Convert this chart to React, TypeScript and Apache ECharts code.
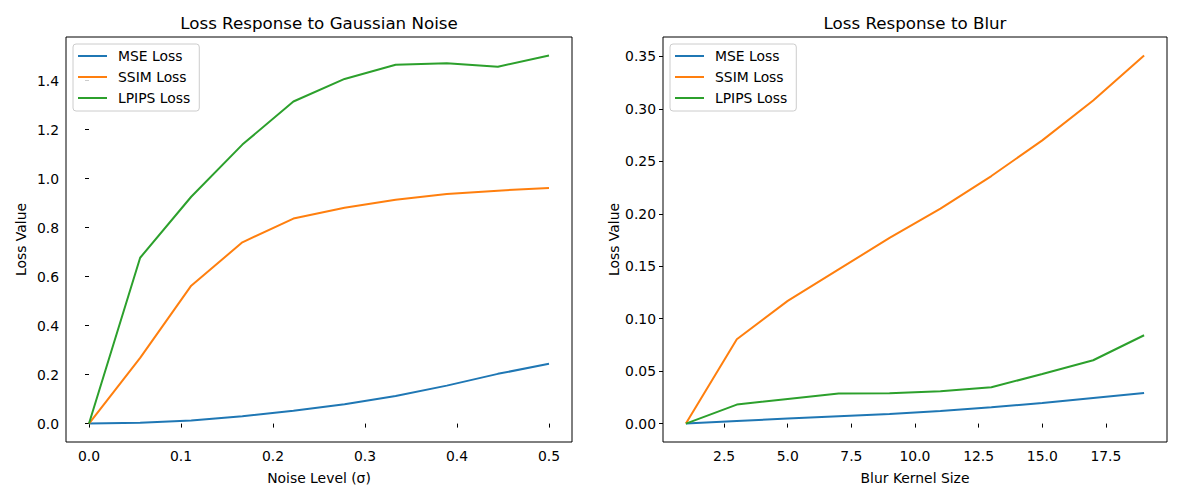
import React, { useEffect, useRef } from "react";
import * as echarts from "echarts";

// Noise sweep (left panel)
const noiseLevels = [0, 0.0556, 0.1111, 0.1667, 0.2222, 0.2778, 0.3333, 0.3889, 0.4444, 0.5];
const noiseMse = [0, 0.003, 0.013, 0.03, 0.052, 0.079, 0.113, 0.155, 0.203, 0.244];
const noiseSsim = [0, 0.268, 0.563, 0.74, 0.837, 0.881, 0.914, 0.937, 0.951, 0.962];
const noiseLpips = [0, 0.677, 0.926, 1.139, 1.315, 1.407, 1.465, 1.471, 1.457, 1.503];

// Blur sweep (right panel)
const kernelSizes = [1, 3, 5, 7, 9, 11, 13, 15, 17, 19];
const blurMse = [0, 0.0025, 0.0048, 0.007, 0.0092, 0.012, 0.0156, 0.0197, 0.0245, 0.0292];
const blurSsim = [0, 0.0804, 0.117, 0.147, 0.177, 0.205, 0.236, 0.27, 0.308, 0.351];
const blurLpips = [0, 0.0181, 0.0235, 0.0286, 0.0289, 0.0308, 0.0346, 0.0473, 0.0604, 0.0842];

// Tick labels
const noiseTicks = [0, 0.1, 0.2, 0.3, 0.4, 0.5];
const noiseYTicks = [0, 0.2, 0.4, 0.6, 0.8, 1.0, 1.2, 1.4];
const kernelTicks = [2.5, 5, 7.5, 10, 12.5, 15, 17.5];
const blurYTicks = [0, 0.05, 0.1, 0.15, 0.2, 0.25, 0.3, 0.35];

const seriesNames = ["MSE Loss", "SSIM Loss", "LPIPS Loss"];
const colors = ["#1f77b4", "#ff7f0e", "#2ca02c"];

const FONT = "DejaVu Sans";
const TICK_FS = 13.9;

const pairs = (xs: number[], ys: number[]) => xs.map((x, i) => [x, ys[i]]);

function xAxisCfg(gridIndex: number, min: number, max: number, ticks: number[], digits: number, name: string) {
  return {
    type: "value",
    gridIndex,
    min,
    max,
    name,
    nameLocation: "middle",
    nameGap: 29,
    nameTextStyle: { fontFamily: FONT, fontSize: TICK_FS, color: "#000" },
    axisLine: { show: false },
    splitLine: { show: false },
    axisTick: { show: true, inside: false, length: 4, lineStyle: { color: "#000", width: 1 }, customValues: ticks },
    axisLabel: {
      show: true,
      margin: 7,
      fontFamily: FONT,
      fontSize: TICK_FS,
      color: "#000",
      customValues: ticks,
      formatter: (v: number) => v.toFixed(digits),
    },
  };
}

function yAxisCfg(gridIndex: number, min: number, max: number, ticks: number[], digits: number) {
  return {
    type: "value",
    gridIndex,
    min,
    max,
    name: "Loss Value",
    nameLocation: "middle",
    nameGap: 38,
    nameRotate: 90,
    nameTextStyle: { fontFamily: FONT, fontSize: TICK_FS, color: "#000" },
    axisLine: { show: false },
    splitLine: { show: false },
    axisTick: { show: true, inside: false, length: 4, lineStyle: { color: "#000", width: 1 }, customValues: ticks },
    axisLabel: {
      show: true,
      margin: 7,
      fontFamily: FONT,
      fontSize: TICK_FS,
      color: "#000",
      customValues: ticks,
      formatter: (v: number) => v.toFixed(digits),
    },
  };
}

function legendCfg(left: number) {
  return {
    orient: "vertical",
    left,
    top: 44,
    data: seriesNames,
    icon: "rect",
    itemWidth: 29,
    itemHeight: 2,
    itemGap: 7,
    padding: [5, 9, 6, 5],
    backgroundColor: "rgba(255,255,255,0.8)",
    borderColor: "#cccccc",
    borderWidth: 1,
    borderRadius: 3,
    selectedMode: false,
    textStyle: { fontFamily: FONT, fontSize: TICK_FS, color: "#000", padding: [0, 0, 0, 6] },
  };
}

function lineSeries(name: string, color: string, idx: number, data: number[][]) {
  return {
    type: "line",
    name,
    xAxisIndex: idx,
    yAxisIndex: idx,
    data,
    symbol: "none",
    showSymbol: false,
    lineStyle: { color, width: 2 },
    itemStyle: { color },
  };
}

export default function App() {
  const ref = useRef<HTMLDivElement>(null);

  useEffect(() => {
    if (!ref.current) return;
    const chart = echarts.init(ref.current, null, { renderer: "svg" });
    const left = { left: 66, top: 37, width: 506, height: 405 };
    const right = { left: 663, top: 37, width: 504, height: 405 };
    const titleStyle = { fontFamily: FONT, fontSize: 16.7, fontWeight: "normal", color: "#000" };
    chart.setOption({
      animation: false,
      backgroundColor: "#fff",
      title: [
        {
          text: "Loss Response to Gaussian Noise",
          left: left.left + left.width / 2,
          top: 14,
          padding: 0,
          textAlign: "center",
          textStyle: titleStyle,
        },
        {
          text: "Loss Response to Blur",
          left: right.left + right.width / 2,
          top: 14,
          padding: 0,
          textAlign: "center",
          textStyle: titleStyle,
        },
      ],
      legend: [legendCfg(73), legendCfg(670)],
      grid: [
        { ...left, show: true, borderColor: "#000", borderWidth: 1, backgroundColor: "#fff" },
        { ...right, show: true, borderColor: "#000", borderWidth: 1, backgroundColor: "#fff" },
      ],
      xAxis: [
        xAxisCfg(0, -0.025, 0.525, noiseTicks, 1, "Noise Level (σ)"),
        xAxisCfg(1, 0.1, 19.9, kernelTicks, 1, "Blur Kernel Size"),
      ],
      yAxis: [yAxisCfg(0, -0.0752, 1.5782, noiseYTicks, 1), yAxisCfg(1, -0.01755, 0.36855, blurYTicks, 2)],
      series: [
        lineSeries(seriesNames[0], colors[0], 0, pairs(noiseLevels, noiseMse)),
        lineSeries(seriesNames[1], colors[1], 0, pairs(noiseLevels, noiseSsim)),
        lineSeries(seriesNames[2], colors[2], 0, pairs(noiseLevels, noiseLpips)),
        lineSeries(seriesNames[0], colors[0], 1, pairs(kernelSizes, blurMse)),
        lineSeries(seriesNames[1], colors[1], 1, pairs(kernelSizes, blurSsim)),
        lineSeries(seriesNames[2], colors[2], 1, pairs(kernelSizes, blurLpips)),
      ],
    });
    return () => chart.dispose();
  }, []);

  return (
    <div
      ref={ref}
      style={{ position: "fixed", left: 0, top: 0, width: 1200, height: 500, background: "#fff" }}
    />
  );
}
